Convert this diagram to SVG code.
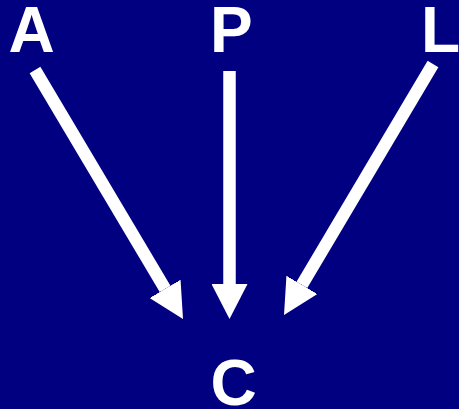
<svg xmlns="http://www.w3.org/2000/svg" width="459" height="409" viewBox="0 0 459 409">
  <style>
    .lbl { font-family: "Liberation Sans", Arial, sans-serif; font-weight: bold; font-size: 64px; fill: #ffffff; }
    .edge { stroke: #ffffff; stroke-width: 12.5; fill: none; marker-end: url(#head); }
  </style>
  <defs>
    <marker id="head" markerUnits="userSpaceOnUse" markerWidth="36" markerHeight="36" refX="0" refY="18" orient="auto" viewBox="0 0 36 36">
      <path d="M0,0 L35,18 L0,36 Z" fill="#ffffff"/>
    </marker>
  </defs>
  <rect x="0" y="0" width="459" height="409" fill="#000080"/>
  <g id="connectors">
    <line class="edge" x1="35" y1="70" x2="165.1" y2="288.9"/>
    <line class="edge" x1="229.5" y1="71" x2="229.5" y2="284"/>
    <line class="edge" x1="433" y1="64" x2="301.9" y2="284.9"/>
  </g>
  <g id="node-A"><text class="lbl" x="31.5" y="52" text-anchor="middle">A</text></g>
  <g id="node-P"><text class="lbl" x="210" y="52">P</text></g>
  <g id="node-L"><text class="lbl" x="421" y="52">L</text></g>
  <g id="node-C"><text class="lbl" x="233.5" y="405" text-anchor="middle">C</text></g>
</svg>
